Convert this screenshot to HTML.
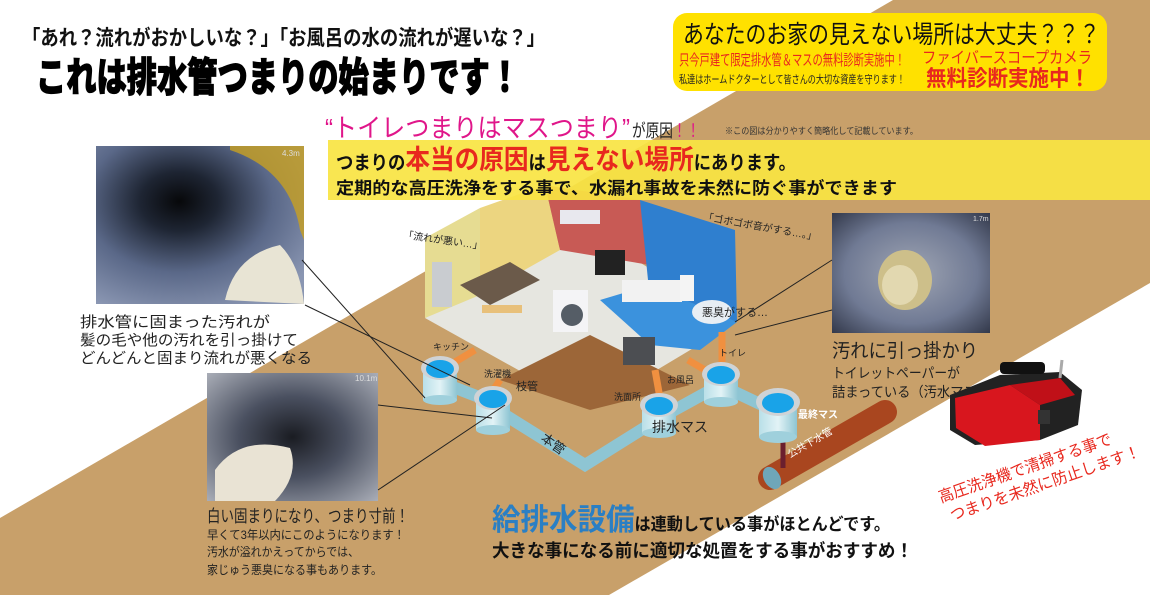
<!DOCTYPE html>
<html><head><meta charset="utf-8">
<style>
html,body{margin:0;padding:0;background:#fff;}
svg{display:block;}
text{font-family:"Liberation Sans","Noto Sans CJK JP",sans-serif;}
</style></head>
<body>
<svg width="1150" height="595" viewBox="0 0 1150 595" xmlns="http://www.w3.org/2000/svg">
<defs>
<radialGradient id="p1" cx="0.4" cy="0.35" r="0.75">
<stop offset="0" stop-color="#07080a"/><stop offset="0.25" stop-color="#1e2533"/><stop offset="0.6" stop-color="#5a6888"/><stop offset="1" stop-color="#8a96b2"/></radialGradient>
<radialGradient id="p2" cx="0.5" cy="0.5" r="0.7">
<stop offset="0" stop-color="#1a1c22"/><stop offset="0.45" stop-color="#4a5060"/><stop offset="1" stop-color="#a8acb6"/></radialGradient>
<radialGradient id="p3" cx="0.5" cy="0.5" r="0.7">
<stop offset="0" stop-color="#a0a6b4"/><stop offset="0.6" stop-color="#707a94"/><stop offset="1" stop-color="#343a4c"/></radialGradient>
<linearGradient id="cyl" x1="0" x2="1"><stop offset="0" stop-color="#b9dfe8"/><stop offset="0.5" stop-color="#e2f3f6"/><stop offset="1" stop-color="#8ec5d3"/></linearGradient>
</defs>

<polygon points="893,0 1150,0 1150,283 609,595 0,595 0,518" fill="#c8a06a"/>

<text x="22" y="45" font-size="21" font-weight="bold" fill="#111" textLength="523" lengthAdjust="spacingAndGlyphs">「あれ？流れがおかしいな？」「お風呂の水の流れが遅いな？」</text>
<text x="36" y="91" font-size="40" font-weight="900" fill="#000" stroke="#000" stroke-width="1.2" textLength="484" lengthAdjust="spacingAndGlyphs">これは排水管つまりの始まりです！</text>

<rect x="673" y="13" width="434" height="78" rx="14" fill="#ffe100"/>
<text x="683" y="43" font-size="25" fill="#111" textLength="417" lengthAdjust="spacingAndGlyphs">あなたのお家の見えない場所は大丈夫？？？</text>
<text x="679" y="65" font-size="15" fill="#e8281e" textLength="226" lengthAdjust="spacingAndGlyphs">只今戸建て限定排水管＆マスの無料診断実施中！</text>
<text x="679" y="83" font-size="11" fill="#222" textLength="226" lengthAdjust="spacingAndGlyphs">私達はホームドクターとして皆さんの大切な資産を守ります！</text>
<text x="922" y="63" font-size="16" fill="#e8281e" textLength="170" lengthAdjust="spacingAndGlyphs">ファイバースコープカメラ</text>
<text x="926" y="86" font-size="22" font-weight="bold" fill="#e8281e" textLength="164" lengthAdjust="spacingAndGlyphs">無料診断実施中！</text>

<text x="325" y="137" font-size="26" fill="#e0168a" textLength="305" lengthAdjust="spacingAndGlyphs">“トイレつまりはマスつまり”</text>
<text x="632" y="137" font-size="18" fill="#222" textLength="68" lengthAdjust="spacingAndGlyphs">が原因<tspan fill="#e0168a">！！</tspan></text>
<text x="725" y="134" font-size="9" fill="#333" textLength="193" lengthAdjust="spacingAndGlyphs">※この図は分かりやすく簡略化して記載しています。</text>

<g>
<polygon points="425,318 590,232 737,322 590,410" fill="#e6e6e0"/>
<polygon points="500,380 590,335 690,385 590,410" fill="#9c6638"/>
<polygon points="425,238 480,208 480,295 425,318" fill="#e6dc92"/>
<polygon points="480,208 545,185 560,250 480,295" fill="#ecd580"/>
<polygon points="545,185 640,200 650,265 560,250" fill="#c85a55"/>
<polygon points="640,200 735,230 737,322 650,300" fill="#2f7fcf"/>
<polygon points="600,300 650,285 737,322 700,350 650,345" fill="#3b92dd"/>
<rect x="432" y="262" width="20" height="45" fill="#c9ccd0"/>
<polygon points="460,285 510,262 540,280 490,305" fill="#6b5a4a"/>
<rect x="482" y="305" width="40" height="8" fill="#e8c07a"/>
<rect x="553" y="290" width="35" height="42" fill="#f4f4f6"/>
<circle cx="572" cy="315" r="11" fill="#555d66"/>
<rect x="623" y="337" width="32" height="28" fill="#4c4e52"/>
<rect x="622" y="280" width="60" height="22" fill="#f2f2f2"/>
<rect x="680" y="275" width="14" height="26" fill="#f4f4f4"/>
<rect x="595" y="250" width="30" height="25" fill="#222"/>
<rect x="560" y="210" width="40" height="14" fill="#e8e8ee"/>
</g>

<rect x="328" y="140" width="822" height="60" fill="#f8e442" opacity="0.92"/>
<text x="336" y="169" font-size="19" font-weight="bold" fill="#111" textLength="460" lengthAdjust="spacingAndGlyphs">つまりの<tspan font-size="27" fill="#e8281e">本当の原因</tspan>は<tspan font-size="27" fill="#e8281e">見えない場所</tspan>にあります。</text>
<text x="336" y="194" font-size="17" font-weight="bold" fill="#111" textLength="561" lengthAdjust="spacingAndGlyphs">定期的な高圧洗浄をする事で、水漏れ事故を未然に防ぐ事ができます</text>

<text x="403" y="238" font-size="10" fill="#222" transform="rotate(8 403 238)">「流れが悪い…」</text>
<text x="703" y="220" font-size="10" fill="#222" transform="rotate(10 703 220)">「ゴボゴボ音がする…。」</text>
<ellipse cx="712" cy="312" rx="20" ry="12" fill="#e8eef4"/>
<text x="702" y="316" font-size="11" fill="#222">悪臭がする…</text>

<g stroke="#f09040" stroke-width="7" fill="none">
<path d="M475,350 L455,362"/><path d="M500,380 L490,395"/><path d="M655,370 L660,398"/><path d="M688,360 L705,370"/><path d="M722,332 L722,362"/>
</g>

<g stroke="#8ec5d3" stroke-width="12" fill="none">
<path d="M440,382 L492,402"/>
<path d="M505,415 L585,465 L660,418 L720,385 L777,412"/>
</g>
<line x1="770" y1="478" x2="885" y2="412" stroke="#a9461f" stroke-width="24" stroke-linecap="round"/>
<ellipse cx="772" cy="478" rx="8" ry="12" fill="#6fa6b8" transform="rotate(-30 772 478)"/>
<text x="790" y="458" font-size="10" fill="#fff" transform="rotate(-30 790 458)">公共下水管</text>
<line x1="783" y1="430" x2="783" y2="468" stroke="#6b1f2e" stroke-width="5"/>

<g>
<g transform="translate(440,368)"><rect x="-17" y="0" width="34" height="32" fill="url(#cyl)"/><ellipse cx="0" cy="32" rx="17" ry="5" fill="#9fd0dc"/><ellipse cx="0" cy="0" rx="19" ry="12" fill="#cfd3d6"/><ellipse cx="0" cy="1" rx="14" ry="9" fill="#19a3e8"/></g>
<g transform="translate(493,398)"><rect x="-17" y="0" width="34" height="32" fill="url(#cyl)"/><ellipse cx="0" cy="32" rx="17" ry="5" fill="#9fd0dc"/><ellipse cx="0" cy="0" rx="19" ry="12" fill="#cfd3d6"/><ellipse cx="0" cy="1" rx="14" ry="9" fill="#19a3e8"/></g>
<g transform="translate(659,405)"><rect x="-17" y="0" width="34" height="28" fill="url(#cyl)"/><ellipse cx="0" cy="28" rx="17" ry="5" fill="#9fd0dc"/><ellipse cx="0" cy="0" rx="19" ry="12" fill="#cfd3d6"/><ellipse cx="0" cy="1" rx="14" ry="9" fill="#19a3e8"/></g>
<g transform="translate(721,374)"><rect x="-17" y="0" width="34" height="28" fill="url(#cyl)"/><ellipse cx="0" cy="28" rx="17" ry="5" fill="#9fd0dc"/><ellipse cx="0" cy="0" rx="19" ry="12" fill="#cfd3d6"/><ellipse cx="0" cy="1" rx="14" ry="9" fill="#19a3e8"/></g>
<g transform="translate(778,402)"><rect x="-19" y="0" width="38" height="35" fill="url(#cyl)"/><ellipse cx="0" cy="35" rx="19" ry="6" fill="#9fd0dc"/><ellipse cx="0" cy="0" rx="22" ry="14" fill="#cfd3d6"/><ellipse cx="0" cy="1" rx="16" ry="10" fill="#19a3e8"/></g>
</g>
<g font-size="9" fill="#222">
<text x="433" y="350">キッチン</text><text x="484" y="377">洗濯機</text><text x="516" y="390" font-size="11">枝管</text>
<text x="614" y="400">洗面所</text><text x="667" y="383">お風呂</text><text x="719" y="356">トイレ</text>
</g>
<text x="798" y="418" font-size="10" font-weight="bold" fill="#fff">最終マス</text>
<text x="652" y="432" font-size="14" fill="#222">排水マス</text>
<text x="540" y="440" font-size="13" fill="#222" transform="rotate(35 540 440)">本管</text>

<rect x="96" y="146" width="208" height="158" fill="url(#p1)"/>
<path d="M230,150 Q290,170 300,230 L304,240 L304,146 L230,146 Z" fill="#c8a020" opacity="0.8"/>
<path d="M225,300 Q235,255 280,245 Q300,265 304,304 Z" fill="#e8e4d4"/>
<text x="282" y="156" font-size="8" fill="#ddd">4.3m</text>
<line x1="302" y1="260" x2="425" y2="398" stroke="#222" stroke-width="1"/>
<line x1="305" y1="305" x2="470" y2="385" stroke="#222" stroke-width="1"/>
<text font-size="15" fill="#222"><tspan x="80" y="327" textLength="190" lengthAdjust="spacingAndGlyphs">排水管に固まった汚れが</tspan><tspan x="80" y="345" textLength="218" lengthAdjust="spacingAndGlyphs">髪の毛や他の汚れを引っ掛けて</tspan><tspan x="80" y="363" textLength="232" lengthAdjust="spacingAndGlyphs">どんどんと固まり流れが悪くなる</tspan></text>

<rect x="207" y="373" width="171" height="128" fill="url(#p2)"/>
<path d="M215,470 Q240,435 290,448 Q300,475 275,501 L215,501 Z" fill="#e9e3d4"/>
<text x="355" y="381" font-size="8" fill="#ddd">10.1m</text>
<line x1="378" y1="405" x2="492" y2="418" stroke="#222" stroke-width="1"/>
<line x1="378" y1="490" x2="505" y2="405" stroke="#222" stroke-width="1"/>
<text x="207" y="522" font-size="17" fill="#222" textLength="202" lengthAdjust="spacingAndGlyphs">白い固まりになり、つまり寸前！</text>
<text font-size="12" fill="#222"><tspan x="207" y="539" textLength="198" lengthAdjust="spacingAndGlyphs">早くて3年以内にこのようになります！</tspan><tspan x="207" y="556" textLength="152" lengthAdjust="spacingAndGlyphs">汚水が溢れかえってからでは、</tspan><tspan x="207" y="574" textLength="175" lengthAdjust="spacingAndGlyphs">家じゅう悪臭になる事もあります。</tspan></text>

<rect x="832" y="213" width="158" height="120" fill="url(#p3)"/>
<ellipse cx="905" cy="280" rx="27" ry="30" fill="#cdbf8a"/>
<ellipse cx="900" cy="285" rx="18" ry="20" fill="#e2d8b0"/>
<text x="973" y="221" font-size="7" fill="#ddd">1.7m</text>
<line x1="832" y1="260" x2="735" y2="322" stroke="#222" stroke-width="1"/>
<line x1="832" y1="310" x2="735" y2="335" stroke="#222" stroke-width="1"/>
<text x="832" y="357" font-size="19" fill="#222" textLength="146" lengthAdjust="spacingAndGlyphs">汚れに引っ掛かり</text>
<text font-size="14" fill="#222"><tspan x="832" y="378" textLength="128" lengthAdjust="spacingAndGlyphs">トイレットペーパーが</tspan><tspan x="832" y="397" textLength="158" lengthAdjust="spacingAndGlyphs">詰まっている（汚水マス）</tspan></text>

<g>
<polygon points="950,395 1000,375 1060,372 1082,390 1078,425 1040,440 975,445 950,430" fill="#222"/>
<polygon points="955,398 1010,385 1040,405 1040,440 985,446 956,428" fill="#d8161e"/>
<polygon points="1010,385 1060,378 1075,395 1040,405" fill="#c01018"/>
<rect x="1000" y="362" width="45" height="12" rx="4" fill="#111"/>
<rect x="1038" y="410" width="12" height="14" fill="#333"/>
<line x1="1060" y1="378" x2="1062" y2="360" stroke="#aaa" stroke-width="3"/>
</g>
<g transform="rotate(-19 1030 470)" font-size="16" fill="#e8281e">
<text x="935" y="472" textLength="182" lengthAdjust="spacingAndGlyphs">高圧洗浄機で清掃する事で</text>
<text x="940" y="493" textLength="200" lengthAdjust="spacingAndGlyphs">つまりを未然に防止します！</text>
</g>

<text x="492" y="530" font-size="17" font-weight="bold" fill="#111" textLength="398" lengthAdjust="spacingAndGlyphs"><tspan font-size="30" fill="#2a7fc4">給排水設備</tspan>は連動している事がほとんどです。</text>
<text x="492" y="557" font-size="18" font-weight="bold" fill="#111" textLength="421" lengthAdjust="spacingAndGlyphs">大きな事になる前に適切な処置をする事がおすすめ！</text>
</svg>
</body></html>
